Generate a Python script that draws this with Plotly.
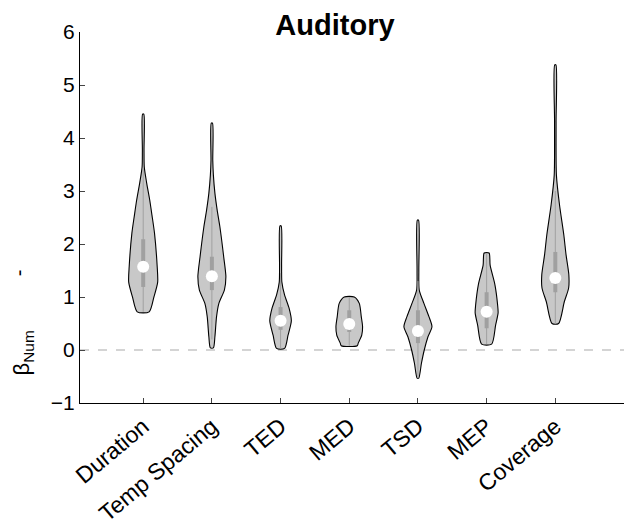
import plotly.graph_objects as go

categories = ["Duration", "Temp Spacing", "TED", "MED", "TSD", "MEP", "Coverage"]

# violin outline profiles: value levels and half-widths (density, in category units)
prof_y = [
    [0.72, 1.0, 1.28, 1.57, 2.2, 2.55, 2.83, 3.15, 3.45, 3.77, 4.45],
    [0.04, 0.25, 0.63, 0.88, 1.13, 1.38, 1.76, 2.33, 2.64, 2.96, 3.3, 3.58, 4.28],
    [0.03, 0.28, 0.55, 0.79, 1.04, 1.28, 1.6, 2.34],
    [0.08, 0.13, 0.28, 0.44, 0.63, 0.88, 1.0],
    [-0.53, -0.25, 0.0, 0.25, 0.44, 0.63, 0.88, 1.13, 1.5, 2.45],
    [0.11, 0.47, 0.7, 0.85, 1.23, 1.6, 1.83],
    [0.5, 0.91, 1.17, 1.42, 1.79, 2.17, 2.74, 3.3, 4.3, 5.38],
]
prof_w = [
    [0.087, 0.156, 0.211, 0.204, 0.165, 0.127, 0.095, 0.051, 0.016, 0.012, 0.009],
    [0.022, 0.044, 0.068, 0.102, 0.182, 0.204, 0.172, 0.116, 0.077, 0.044, 0.022, 0.013, 0.009],
    [0.058, 0.109, 0.157, 0.124, 0.058, 0.019, 0.015, 0.009],
    [0.116, 0.131, 0.182, 0.194, 0.175, 0.146, 0.073],
    [0.012, 0.051, 0.092, 0.146, 0.204, 0.160, 0.087, 0.019, 0.013, 0.009],
    [0.073, 0.131, 0.167, 0.160, 0.121, 0.051, 0.036],
    [0.048, 0.131, 0.194, 0.197, 0.157, 0.124, 0.061, 0.016, 0.011, 0.009],
]

medians = [1.57, 1.39, 0.55, 0.49, 0.36, 0.72, 1.36]
q1 = [1.19, 1.13, 0.38, 0.34, 0.13, 0.41, 1.09]
q3 = [2.09, 1.76, 0.81, 0.75, 0.75, 1.09, 1.85]
whisk_lo = [0.72, 0.2, 0.03, 0.08, -0.53, 0.11, 0.5]
whisk_hi = [3.44, 2.7, 1.45, 1.0, 1.3, 1.83, 3.0]

y_ticks = [-1, 0, 1, 2, 3, 4, 5, 6]

fig = go.Figure()
positions = list(range(1, len(categories) + 1))

for i, c in enumerate(positions):
    ys = prof_y[i]
    ws = prof_w[i]
    xs = [c + w for w in ws] + [c - w for w in reversed(ws)] + [c + ws[0]]
    yy = list(ys) + list(reversed(ys)) + [ys[0]]
    fig.add_trace(go.Scatter(x=xs, y=yy, mode="lines", fill="toself",
                             fillcolor="rgb(200,200,200)",
                             line=dict(color="black", width=1.1, shape="spline", smoothing=0.7),
                             hoverinfo="skip", showlegend=False))
    fig.add_trace(go.Scatter(x=[c, c], y=[whisk_lo[i], whisk_hi[i]], mode="lines",
                             line=dict(color="rgb(160,160,160)", width=1),
                             hoverinfo="skip", showlegend=False))
    fig.add_trace(go.Scatter(x=[c, c], y=[q1[i], q3[i]], mode="lines",
                             line=dict(color="rgb(160,160,160)", width=4),
                             hoverinfo="skip", showlegend=False))
    fig.add_trace(go.Scatter(x=[c], y=[medians[i]], mode="markers",
                             marker=dict(color="white", size=12, line=dict(width=0)),
                             hoverinfo="skip", showlegend=False))

fig.add_hline(y=0, line=dict(color="rgb(170,170,170)", width=1.2, dash="dash"), layer="below")

font = "Liberation Sans, Arial, sans-serif"
fig.update_layout(
    width=632, height=526,
    margin=dict(l=80, r=8, t=32, b=123, autoexpand=False),
    plot_bgcolor="white", paper_bgcolor="white",
    font=dict(family=font, size=21, color="black"),
    title=dict(text="<b>Auditory</b>", x=0.53, xanchor="center", y=0.952, yanchor="middle",
               font=dict(size=29, family=font, color="black")),
    xaxis=dict(range=[0.08, 8.0], tickvals=positions, ticktext=categories, automargin=False,
               tickangle=-40, ticks="inside", ticklen=5, showline=True, linecolor="black",
               linewidth=1, showgrid=False, zeroline=False, tickfont=dict(size=23)),
    yaxis=dict(range=[-1, 6], tickvals=y_ticks, ticks="inside", ticklen=5, automargin=False,
               showline=True, linecolor="black", linewidth=1, showgrid=False,
               zeroline=False, tickfont=dict(size=21)),
)

fig.add_annotation(text="β<sub>Num</sub>", textangle=-90, xref="paper", yref="paper",
                   x=-0.105, y=0.07, xanchor="center", yanchor="bottom", showarrow=False,
                   font=dict(size=22, family=font))
fig.add_annotation(text="-", textangle=-90, xref="paper", yref="paper",
                   x=-0.112, y=0.35, xanchor="center", yanchor="middle", showarrow=False,
                   font=dict(size=20, family=font))

fig.write_html("out.html")
